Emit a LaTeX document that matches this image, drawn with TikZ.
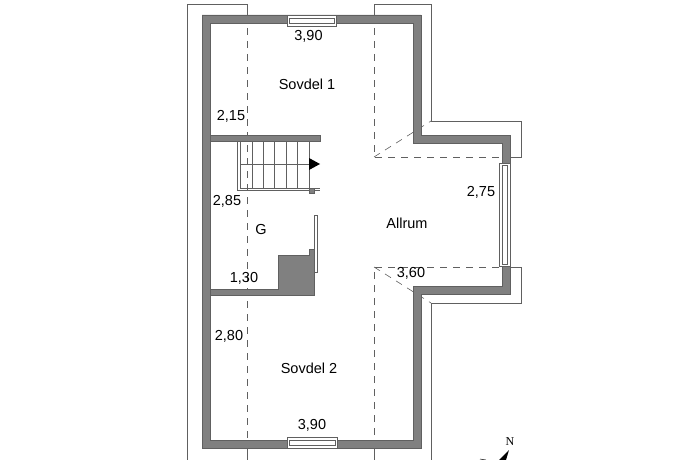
\documentclass[tikz,border=0pt]{standalone}
\usepackage{fontspec}
\setmainfont{Liberation Sans}
\newfontfamily\compassfont{Liberation Serif}
\definecolor{wallgray}{HTML}{808080}
\definecolor{roofgray}{HTML}{606060}
\tikzset{
  wall/.style={fill=wallgray, draw=roofgray, line width=0.3pt},
  roofline/.style={draw=roofgray, line width=0.6pt},
  roofdash/.style={draw=roofgray, line width=0.6pt, dash pattern=on 7pt off 6pt},
  stairline/.style={draw=roofgray, line width=0.6pt},
  pane/.style={draw=roofgray, fill=white, line width=0.5pt},
  lbl/.style={font=\fontsize{14.5}{14.5}\selectfont, inner sep=0pt},
}
\begin{document}
\begin{tikzpicture}[x=1pt,y=-1pt]
\useasboundingbox (0,0) rectangle (690,460);
% roof outline
\draw [roofline] (187,460) -- (187,4) -- (247,4) -- (247,15);
\draw [roofline] (374,15) -- (374,4) -- (431,4) -- (431,121) -- (521,121) -- (521,157) -- (505,157);
\draw [roofline] (510,267) -- (521,267) -- (521,303) -- (431,303) -- (431,460);
\draw [roofline] (247,448) -- (247,460);
\draw [roofline] (374,448) -- (374,460);
\draw [roofdash] (247,15) -- (247,448);
\draw [roofdash] (374,15) -- (374,157) -- (505,157);
\draw [roofdash] (374,157) -- (431,121);
\draw [roofdash] (374,448) -- (374,267) -- (502,267);
\draw [roofdash] (374,267) -- (431,303);
% outer walls
\draw [wall] (202,15) -- (421,15) -- (421,135) -- (510,135) -- (510,163) -- (502,163) -- (502,143) -- (413,143) -- (413,23) -- (210,23) -- (210,440) -- (413,440) -- (413,286) -- (502,286) -- (502,266) -- (510,266) -- (510,294) -- (421,294) -- (421,448) -- (202,448) -- cycle;
% inner walls
\draw [wall] (210,135) rectangle (320,141);
\draw [wall] (210,289) -- (278,289) -- (278,255) -- (309,255) -- (309,249) -- (314,249) -- (314,295) -- (210,295) -- cycle;
% windows
\draw [pane] (287,15) rectangle (336,26);
\draw [pane] (289,18) rectangle (334,23);
\draw [pane] (287,437) rectangle (337,448);
\draw [pane] (289,440) rectangle (335,445);
\draw [pane] (499,163) rectangle (510,266);
\draw [pane] (502,165) rectangle (507,264);
% door
\draw [pane] (314,215) rectangle (317,272);
% stairs
\draw [stairline] (237,141) -- (237,190) -- (320,190);
\draw [stairline] (240,141) -- (240,188) -- (320,188);
\foreach \xstep in {252,263,274,286,297,309}
  \draw [stairline] (\xstep,141) -- (\xstep,188);
\draw [stairline] (240,164) -- (309,164);
\fill [black] (309,158) -- (320,164) -- (309,170) -- cycle;
\draw [wall] (309,188) rectangle (314,193);
% labels
\node [lbl] (dimtop) at (308.5,36) {3,90};
\node [lbl] (sovdela) at (307,84) {Sovdel 1};
\node [lbl] (dimstair) at (231,116) {2,15};
\node [lbl] (dimhall) at (227,201) {2,85};
\node [lbl] (hall) at (261,230) {G};
\node [lbl] (dimblock) at (244,278) {1,30};
\node [lbl] (dimbay) at (481,192) {2,75};
\node [lbl] (allrum) at (407,223) {Allrum};
\node [lbl] (dimallrum) at (411,273) {3,60};
\node [lbl] (dimleft) at (229,336) {2,80};
\node [lbl] (sovdelb) at (309,368) {Sovdel 2};
\node [lbl] (dimbottom) at (312,425) {3,90};
% compass
\node [inner sep=0pt, font=\compassfont\fontsize{12}{12}\selectfont] (north) at (510,442) {N};
\fill [black] (509,450) -- (506,460) -- (499,460) -- cycle;
\draw [black, line width=0.5pt] (480,459) -- (486,460);
\end{tikzpicture}
\end{document}
